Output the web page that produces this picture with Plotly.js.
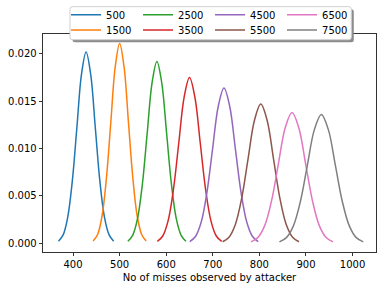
<!DOCTYPE html>
<html>
<head>
<meta charset="utf-8">
<script src="https://cdn.plot.ly/plotly-3.0.1.min.js"></script>
<style>html,body{margin:0;padding:0;background:#fff}#chart{width:384px;height:290px}</style>
</head>
<body>
<div id="chart"></div>
<script>
// Series labels (number of accesses) and curve points
const labels = ["500", "1500", "2500", "3500", "4500", "5500", "6500", "7500"];
const colors = ["#1f77b4", "#ff7f0e", "#2ca02c", "#d62728", "#9467bd", "#8c564b", "#e377c2", "#7f7f7f"];
const legendRow = ["legend", "legend2", "legend", "legend2", "legend", "legend2", "legend", "legend2"];

const x500  = [368.8, 378.7, 388.5, 398.4, 408.3, 418.1, 428, 437.9, 447.7, 457.6, 467.5, 477.4, 487.2];
const y500  = [0.000224, 0.000887, 0.002733, 0.006559, 0.012251, 0.017827, 0.0202, 0.017827, 0.012251, 0.006559, 0.002733, 0.000887, 0.000224];
const x1500 = [443.2, 452.7, 462.2, 471.6, 481.1, 490.5, 500, 509.5, 518.9, 528.4, 537.8, 547.3, 556.8];
const y1500 = [0.000234, 0.000926, 0.002855, 0.006851, 0.012797, 0.018621, 0.0211, 0.018621, 0.012797, 0.006851, 0.002855, 0.000926, 0.000234];
const x2500 = [517.6, 528, 538.4, 548.8, 559.2, 569.6, 580, 590.4, 600.8, 611.2, 621.6, 632, 642.4];
const y2500 = [0.000213, 0.000843, 0.002598, 0.006234, 0.011645, 0.016944, 0.0192, 0.016944, 0.011645, 0.006234, 0.002598, 0.000843, 0.000213];
const x3500 = [581, 592.5, 604, 615.5, 627, 638.5, 650, 661.5, 673, 684.5, 696, 707.5, 719];
const y3500 = [0.000194, 0.000768, 0.002368, 0.005682, 0.010614, 0.015444, 0.0175, 0.015444, 0.010614, 0.005682, 0.002368, 0.000768, 0.000194];
const x4500 = [650.5, 662.75, 675, 687.25, 699.5, 711.75, 724, 736.25, 748.5, 760.75, 773, 785.25, 797.5];
const y4500 = [0.000182, 0.00072, 0.002219, 0.005325, 0.009947, 0.014473, 0.0164, 0.014473, 0.009947, 0.005325, 0.002219, 0.00072, 0.000182];
const x5500 = [721.1, 734.75, 748.4, 762.05, 775.7, 789.35, 803, 816.65, 830.3, 843.95, 857.6, 871.25, 884.9];
const y5500 = [0.000163, 0.000645, 0.001989, 0.004773, 0.008916, 0.012973, 0.0147, 0.012973, 0.008916, 0.004773, 0.001989, 0.000645, 0.000163];
const x6500 = [782.1, 796.75, 811.4, 826.05, 840.7, 855.35, 870, 884.65, 899.3, 913.95, 928.6, 943.25, 957.9];
const y6500 = [0.000153, 0.000606, 0.001867, 0.004481, 0.00837, 0.012179, 0.0138, 0.012179, 0.00837, 0.004481, 0.001867, 0.000606, 0.000153];
const x7500 = [843, 858, 873, 888, 903, 918, 933, 948, 963, 978, 993, 1008, 1023];
const y7500 = [0.000151, 0.000597, 0.00184, 0.004416, 0.008248, 0.012002, 0.0136, 0.012002, 0.008248, 0.004416, 0.00184, 0.000597, 0.000151];

const xs = [x500, x1500, x2500, x3500, x4500, x5500, x6500, x7500];
const ys = [y500, y1500, y2500, y3500, y4500, y5500, y6500, y7500];

const traces = labels.map((lab, i) => ({
  type: "scatter", mode: "lines", name: lab,
  x: xs[i], y: ys[i],
  line: {color: colors[i], width: 1.5, shape: "spline", smoothing: 1},
  legend: legendRow[i]
}));

// plot area geometry (px)
const W = 384, H = 290, L = 43, R = 8.3, T = 34.3, B = 38;
const pw = W - L - R, ph = H - T - B;
const px = v => (v - L) / pw;
const py = v => (H - B - v) / ph;

function roundRect(x0, y0, x1, y1, r) {
  const X0 = px(x0), X1 = px(x1), Y0 = py(y0), Y1 = py(y1);
  const rx = r / pw, ry = r / ph;
  return `M${X0 + rx},${Y0} L${X1 - rx},${Y0} Q${X1},${Y0} ${X1},${Y0 - ry} L${X1},${Y1 + ry} Q${X1},${Y1} ${X1 - rx},${Y1} L${X0 + rx},${Y1} Q${X0},${Y1} ${X0},${Y1 + ry} L${X0},${Y0 - ry} Q${X0},${Y0} ${X0 + rx},${Y0} Z`;
}

const font = {family: "DejaVu Sans", size: 10, color: "#000"};
const legendBase = {
  orientation: "h", xref: "paper", yref: "container",
  x: px(66), xanchor: "left", yanchor: "middle",
  entrywidth: 27, entrywidthmode: "pixels",
  bgcolor: "rgba(0,0,0,0)", borderwidth: 0,
  font: font, traceorder: "normal", itemwidth: 30
};
const layout = {
  width: W, height: H,
  margin: {l: L, r: R, t: T, b: B, autoexpand: false},
  paper_bgcolor: "#fff", plot_bgcolor: "#fff",
  font: font,
  showlegend: true,
  legend: Object.assign({}, legendBase, {y: 1 - 14.7 / H}),
  legend2: Object.assign({}, legendBase, {y: 1 - 30 / H}),
  shapes: [
    {type: "path", xref: "paper", yref: "paper", layer: "above",
     path: roundRect(72.5, 9.5, 353.5, 42.5, 2.5), fillcolor: "#8c8c8c", line: {width: 0}},
    {type: "path", xref: "paper", yref: "paper", layer: "above",
     path: roundRect(70, 7, 351, 40, 2.5), fillcolor: "#ffffff", line: {color: "#d0d0d0", width: 1}}
  ],
  xaxis: {
    range: [335.5, 1050.3], tickvals: [400, 500, 600, 700, 800, 900, 1000],
    ticks: "outside", ticklen: 3.5, tickcolor: "#000", tickwidth: 0.8,
    showline: true, linecolor: "#000", linewidth: 0.8, mirror: true,
    showgrid: false, zeroline: false,
    title: {text: "No of misses observed by attacker", font: font, standoff: 4}
  },
  yaxis: {
    range: [-0.00092, 0.0221], tickvals: [0, 0.005, 0.01, 0.015, 0.02], tickformat: ".3f",
    ticks: "outside", ticklen: 3.5, tickcolor: "#000", tickwidth: 0.8,
    showline: true, linecolor: "#000", linewidth: 0.8, mirror: true,
    showgrid: false, zeroline: false
  }
};
Plotly.newPlot("chart", traces, layout, {displayModeBar: false, staticPlot: true});
</script>
</body>
</html>
